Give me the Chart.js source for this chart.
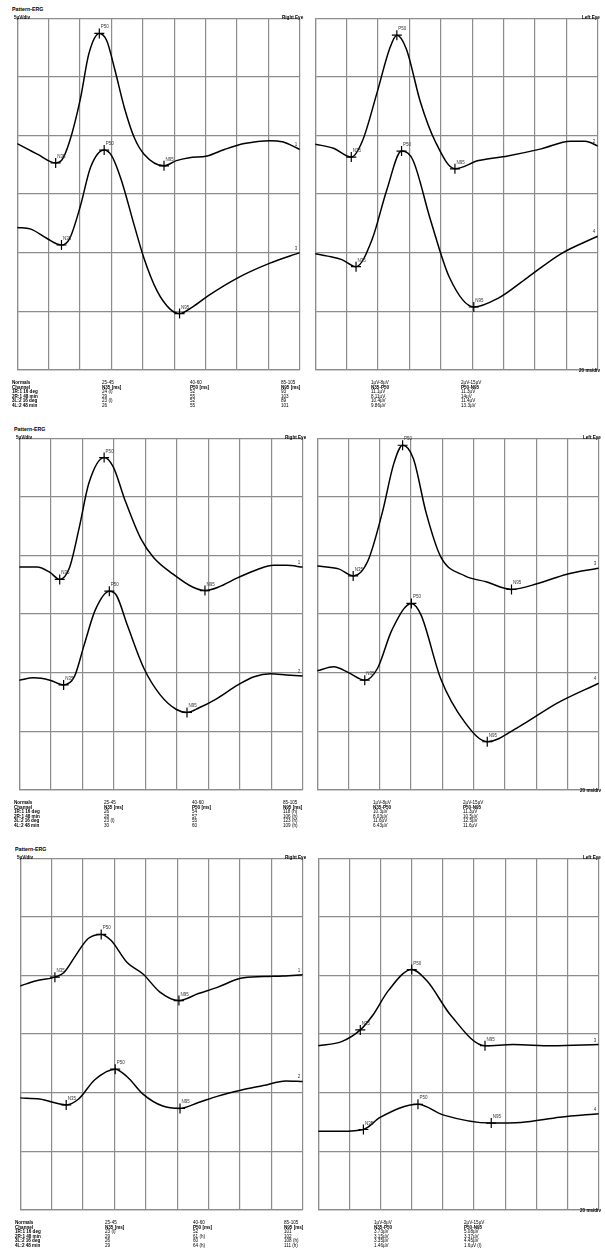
<!DOCTYPE html>
<html>
<head>
<meta charset="utf-8">
<script src="https://cdn.jsdelivr.net/npm/chart.js@4.4.0/dist/chart.umd.min.js"></script>
<style>
  body { margin: 0; background: #fff; width: 605px; height: 1248px; position: relative; overflow: hidden;
         font-family: "Liberation Sans", Arial, sans-serif; color: #000; }
  canvas { position: absolute; }
  /* text is laid out at double size and scaled down, so the browser's minimum font size does not apply */
  .txt { position: absolute; white-space: nowrap; font-size: 9.2px; line-height: 9.2px;
         transform: scale(0.5); transform-origin: 0 0; }
  .b { font-weight: bold; }
  .title { font-size: 10.6px; font-weight: bold; }
</style>
</head>
<body>
<script>
// ---- Data (µV against ms; channel baselines are set in the chart config) ----
const MARK_NAMES = ["N35", "P50", "N95"];

// Panel 1
const p1Right1 = [[0,-0.7],[12.8,-1.6],[24.5,-2.35],[28.2,-2.15],[33.4,-0.5],[40.2,3.1],[45.7,7.0],[52.3,8.7],[57,8.1],[62.2,5.6],[68.4,2.3],[74.6,-0.2],[80.8,-1.6],[93.5,-2.6],[101.4,-2.15],[109.6,-1.9],[121,-1.75],[132,-1.2],[144.6,-0.7],[161,-0.45],[169,-0.55],[180,-1.2]];
const p1Right2 = [[0,2.15],[8.7,2.0],[19,1.2],[28.2,0.65],[33.4,1.2],[40.2,3.95],[46.8,7.3],[55.4,8.75],[60.2,8.25],[66.3,6.2],[74.6,2.3],[80.8,-0.5],[89,-3.25],[97.2,-4.8],[103.4,-5.2],[111.6,-4.65],[122,-3.65],[140.5,-2.15],[161,-0.9],[180,0]];
const p1Left1 = [[0,-0.75],[11.7,-1.1],[23,-1.85],[30,-0.5],[39.4,3.65],[47.4,7.4],[52,8.55],[58,7.4],[67,2.85],[76.4,-0.5],[89,-2.85],[104,-2.15],[122.6,-1.75],[144,-1.15],[162.6,-0.5],[172,-0.5],[180,-0.9]];
const p1Left2 = [[0,-0.1],[8,-0.3],[17,-0.6],[26,-1.2],[36.3,1.15],[45.6,5.35],[55,8.66],[62.2,7.9],[73.3,2.85],[85.6,-2.15],[101,-4.64],[116.4,-3.9],[135,-2.15],[156.5,-0.1],[180,1.4]];
const p1Marks = {
  r1: [[24.5,-2.35],[52.3,8.7],[93.5,-2.6]],
  r2: [[28.2,0.65],[55.4,8.75],[103.4,-5.2]],
  l1: [[23,-1.85],[52,8.55],[89,-2.85]],
  l2: [[26,-1.2],[55,8.66],[101,-4.64]],
};

// Panel 2
const p2Right1 = [[0,-1.0],[11.3,-1.0],[19.5,-1.45],[25.7,-2.05],[31.9,-1.05],[38,2.3],[44.2,6.15],[53.9,8.35],[59.7,7.55],[66.9,4.8],[77.1,1.45],[85.4,-0.2],[97.7,-1.6],[110,-2.7],[117.9,-3.0],[126.5,-2.7],[138.8,-1.9],[151.2,-1.2],[161.5,-0.85],[169.7,-0.85],[180,-1.0]];
const p2Right2 = [[0,-0.65],[9.3,-0.45],[19.5,-0.65],[28.2,-1.05],[35,-0.35],[41.1,2.3],[48.3,5.35],[57.2,6.95],[61.7,6.6],[68.9,3.95],[79.2,0.35],[89.5,-1.9],[99.8,-3.15],[106.5,-3.4],[114.2,-3.0],[124.4,-2.3],[138.8,-1.05],[149.1,-0.35],[159.4,-0.1],[169.7,-0.2],[180,-0.3]];
const p2Left1 = [[0,-0.9],[13.7,-1.15],[23,-1.75],[32.3,-0.5],[41.6,3.65],[49,7.85],[54.6,9.4],[61.5,8.25],[69.6,3.65],[78.9,-0.1],[94.4,-1.75],[108,-2.25],[124.2,-2.9],[141,-2.4],[159.6,-1.6],[180,-1.1]];
const p2Left2 = [[0,0.15],[10.6,0.5],[20,0],[30.4,-0.65],[38.5,0.35],[47.8,3.65],[60.2,5.9],[66.4,4.9],[78.9,-0.5],[94.4,-4.25],[108.7,-5.9],[128.6,-4.65],[153.4,-2.6],[180,-0.9]];
const p2Marks = {
  r1: [[25.7,-2.05],[53.9,8.35],[117.9,-3.0]],
  r2: [[28.2,-1.05],[57.2,6.95],[106.5,-3.4]],
  l1: [[23,-1.75],[54.6,9.4],[124.2,-2.9]],
  l2: [[30.4,-0.65],[60.2,5.9],[108.7,-5.9]],
};

// Panel 3
const p3Right1 = [[0,-0.9],[10.3,-0.45],[22.1,-0.15],[27.9,0.25],[35.1,1.65],[43.3,3.15],[51.6,3.5],[57.8,3.0],[68.1,1.1],[78.4,0.1],[88.8,-1.4],[101.1,-2.15],[113.5,-1.55],[125.9,-1.0],[140.4,-0.25],[154.8,-0.1],[167.2,-0.05],[180,0.05]];
const p3Right2 = [[0,-0.45],[12.4,-0.55],[29.3,-1.05],[37.2,-0.55],[47.5,1.1],[60.5,2.0],[68.1,1.35],[78.4,-0.15],[90.8,-1.15],[101.8,-1.35],[113.5,-0.85],[125.9,-0.3],[140.4,0.2],[154.8,0.6],[169.2,1.0],[180,0.95]];
const p3Left1 = [[0,-6.0],[15,-5.65],[27,-4.65],[35,-3.4],[45,-1.3],[60,0.5],[70,-0.5],[85,-3.4],[107,-6.0],[125,-5.9],[150,-6.0],[180,-5.9]];
const p3Left2 = [[0,-3.3],[15,-3.3],[29,-3.15],[40,-2.1],[64,-1.0],[80,-1.9],[111,-2.6],[130,-2.55],[155,-2.1],[180,-1.8]];
const p3Marks = {
  r1: [[22.1,-0.15],[51.6,3.5],[101.1,-2.15]],
  r2: [[29.3,-1.05],[60.5,2.0],[101.8,-1.35]],
  l1: [[27,-4.65],[60,0.5],[107,-6.0]],
  l2: [[29,-3.15],[64,-1.0],[111,-2.6]],
};

// Result tables
const NORMALS = ["25-45", "40-60", "85-105", "1µV-8µV", "2µV-15µV"];
const COL_HEAD = ["N35 [ms]", "P50 [ms]", "N95 [ms]", "N35-P50", "P50-N95"];
const p1Channels = ["1R:1 16 deg", "2R:1 48 min", "3L:2 16 deg", "4L:2 48 min"];
const p1N35 = ["24 (l)", "29", "23 (l)", "26"];
const p1P50 = ["52", "55", "52", "55"];
const p1N95 = ["93", "103", "89", "101"];
const p1Amp1 = ["11.1µV", "8.11µV", "10.4µV", "9.86µV"];
const p1Amp2 = ["11.3µV", "14µV", "11.4µV", "13.3µV"];
const p2Channels = ["1R:1 16 deg", "2R:1 48 min", "3L:2 16 deg", "4L:2 48 min"];
const p2N35 = ["26", "28", "23 (l)", "30"];
const p2P50 = ["54", "57", "55", "60"];
const p2N95 = ["118 (h)", "106 (h)", "123 (h)", "109 (h)"];
const p2Amp1 = ["10.3µV", "8.03µV", "11.6µV", "6.43µV"];
const p2Amp2 = ["11.3µV", "10.5µV", "12.5µV", "11.6µV"];
const p3Channels = ["1R:1 16 deg", "2R:1 48 min", "3L:2 16 deg", "4L:2 48 min"];
const p3N35 = ["23 (l)", "29", "26", "29"];
const p3P50 = ["52", "61 (h)", "60", "64 (h)"];
const p3N95 = ["101", "102", "108 (h)", "111 (h)"];
const p3Amp1 = ["3.73µV", "3.15µV", "3.35µV", "1.46µV"];
const p3Amp2 = ["5.08µV", "3.37µV", "4.45µV", "1.6µV (l)"];

// ---- Layout ----
const UV_PER_DIV = 5;
const BASELINES = [4, 2];
const GRID = "#8c8c8c";

function txt(s, x, y, cls) {
  const d = document.createElement("div");
  d.className = "txt " + (cls || "");
  d.textContent = s;
  d.style.left = x + "px";
  d.style.top = y + "px";
  document.body.appendChild(d);
  return d;
}

const markLabels = {
  id: "markLabels",
  afterDatasetsDraw(chart) {
    const { ctx } = chart;
    ctx.save();
    ctx.font = '4.5px "Liberation Sans", Arial, sans-serif';
    ctx.fillStyle = "#333";
    chart.data.datasets.forEach((ds, i) => {
      const pts = chart.getDatasetMeta(i).data;
      if (ds.marks) pts.forEach((p, j) => ctx.fillText(ds.marks[j], p.x + 1.5, p.y - 5));
      if (ds.chan) {
        const last = pts[pts.length - 1];
        ctx.fillText(ds.chan, last.x - 5, last.y - 3);
      }
    });
    ctx.restore();
  },
};

function toXY(arr, base) {
  return arr.map(([t, v]) => ({ x: t, y: base + v / UV_PER_DIV }));
}

function drawEye(box, traces, marks, chans) {
  const pad = 2;
  const cv = document.createElement("canvas");
  cv.width = box.w + pad * 2;
  cv.height = box.h + pad * 2;
  cv.style.left = box.x - pad + "px";
  cv.style.top = box.y - pad + "px";
  document.body.appendChild(cv);

  const datasets = [];
  traces.forEach((tr, i) => {
    datasets.push({
      data: toXY(tr, BASELINES[i]),
      borderColor: "#000",
      borderWidth: 1.5,
      pointRadius: 0,
      cubicInterpolationMode: "monotone",
      chan: chans[i],
    });
    datasets.push({
      type: "scatter",
      data: toXY(marks[i], BASELINES[i]),
      pointStyle: "cross",
      pointRadius: 5,
      borderColor: "#000",
      borderWidth: 1.2,
      showLine: false,
      marks: MARK_NAMES,
    });
  });

  new Chart(cv, {
    type: "line",
    data: { datasets },
    options: {
      responsive: false,
      animation: false,
      layout: { padding: pad },
      plugins: { legend: { display: false }, tooltip: { enabled: false } },
      scales: {
        x: {
          type: "linear", min: 0, max: 180,
          ticks: { display: false, stepSize: 20 },
          grid: { color: GRID, lineWidth: 1.2, drawTicks: false },
          border: { display: true, color: GRID, width: 1.2 },
        },
        y: {
          min: 0, max: 6,
          ticks: { display: false, stepSize: 1 },
          grid: { color: GRID, lineWidth: 1.2, drawTicks: false },
          border: { display: true, color: GRID, width: 1.2 },
        },
      },
    },
    plugins: [markLabels],
  });
}

function drawPanel(top, left, right, data, chans, table) {
  txt("Pattern-ERG", left.x - 1, top - 7.5, "title");
  const box = (b) => ({ x: b.x, y: top, w: b.w, h: 360 });
  drawEye(box(left), data.right, data.rMarks, chans[0]);
  drawEye(box(right), data.left, data.lMarks, chans[1]);
  txt("5µV/div", left.x + 1, top + 1.2, "b");
  txt("Right Eye", left.x + left.w - 22, top + 1.2, "b");
  txt("Left Eye", right.x + right.w - 20, top + 1.2, "b");
  txt("20 ms/div", right.x + right.w - 23, top + 354, "b");

  // table under the traces
  const ty = top + 366;
  const cols = [left.x - 1, left.x + 89, left.x + 177, left.x + 268, right.x + 60, right.x + 150];
  txt("Normals", cols[0], ty, "b");
  txt("Channel", cols[0], ty + 4.6, "b");
  table.channels.forEach((c, i) => txt(c, cols[0], ty + 9.2 + i * 4.6, "b"));
  const vals = [table.n35, table.p50, table.n95, table.a1, table.a2];
  vals.forEach((v, k) => {
    txt(NORMALS[k], cols[k + 1], ty);
    txt(COL_HEAD[k], cols[k + 1], ty + 4.6, "b");
    v.forEach((s, i) => txt(s, cols[k + 1], ty + 9.2 + i * 4.6));
  });
}

drawPanel(14, { x: 13, w: 291 }, { x: 311, w: 291 },
  { right: [p1Right1, p1Right2], rMarks: [p1Marks.r1, p1Marks.r2], left: [p1Left1, p1Left2], lMarks: [p1Marks.l1, p1Marks.l2] },
  [["1", "3"], ["2", "4"]],
  { channels: p1Channels, n35: p1N35, p50: p1P50, n95: p1N95, a1: p1Amp1, a2: p1Amp2 });

drawPanel(434, { x: 15, w: 292 }, { x: 313, w: 290 },
  { right: [p2Right1, p2Right2], rMarks: [p2Marks.r1, p2Marks.r2], left: [p2Left1, p2Left2], lMarks: [p2Marks.l1, p2Marks.l2] },
  [["1", "2"], ["3", "4"]],
  { channels: p2Channels, n35: p2N35, p50: p2P50, n95: p2N95, a1: p2Amp1, a2: p2Amp2 });

drawPanel(854, { x: 16, w: 291 }, { x: 314, w: 289 },
  { right: [p3Right1, p3Right2], rMarks: [p3Marks.r1, p3Marks.r2], left: [p3Left1, p3Left2], lMarks: [p3Marks.l1, p3Marks.l2] },
  [["1", "2"], ["3", "4"]],
  { channels: p3Channels, n35: p3N35, p50: p3P50, n95: p3N95, a1: p3Amp1, a2: p3Amp2 });
</script>
</body>
</html>
